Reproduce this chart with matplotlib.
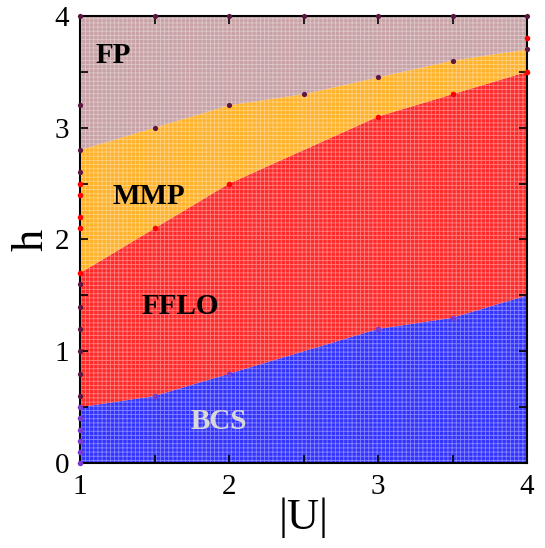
import numpy as np
import matplotlib.pyplot as plt

plt.rcParams['font.family'] = ['Liberation Serif', 'DejaVu Serif']
plt.rcParams['hatch.linewidth'] = 0.6

# phase boundaries h(|U|)
U = [1.0, 1.5, 2.0, 2.5, 3.0, 3.5, 4.0]
h_bcs = [0.5, 0.6, 0.8, 1.0, 1.2, 1.3, 1.5]
h_fflo = [1.7, 2.1, 2.5, 2.8, 3.1, 3.3, 3.5]
h_mmp = [2.8, 3.0, 3.2, 3.3, 3.45, 3.6, 3.7]
h_top = [4.0, 4.0, 4.0, 4.0, 4.0, 4.0, 4.0]

# computed points
pts_fp_u = [1, 1, 1, 1, 1, 1, 1, 1, 1, 1, 1.5, 2, 2.5, 3, 3.5, 4,
            1.5, 2, 2.5, 3, 3.5, 4]
pts_fp_h = [4.0, 3.2, 2.8, 2.6, 1.6, 1.4, 1.2, 1.0, 0.8, 0.6, 3.0, 3.2, 3.3, 3.45, 3.6, 3.7,
            4.0, 4.0, 4.0, 4.0, 4.0, 4.0]
pts_red_u = [1, 1, 1, 1, 1, 1.5, 2, 3, 3.5, 4, 4]
pts_red_h = [2.5, 2.4, 2.2, 2.1, 1.7, 2.1, 2.5, 3.1, 3.3, 3.5, 3.8]
pts_bcs_u = [1, 1, 1, 1, 1, 1, 1.5, 2, 3, 3.5]
pts_bcs_h = [0.5, 0.4, 0.3, 0.2, 0.1, 0.0, 0.6, 0.8, 1.2, 1.3]

fig = plt.figure(figsize=(5.45, 5.48), dpi=100)
ax = fig.add_axes([0.147, 0.155, 0.82, 0.816])

zeros = np.zeros(len(U))
hw = (1, 1, 1, 0.4)
ax.fill_between(U, zeros, h_bcs, facecolor='#3434ff', edgecolor=hw, hatch='++++', linewidth=0)
ax.fill_between(U, h_bcs, h_fflo, facecolor='#ff2a2a', edgecolor=hw, hatch='++++', linewidth=0)
ax.fill_between(U, h_fflo, h_mmp, facecolor='#ffb22a', edgecolor=hw, hatch='++++', linewidth=0)
ax.fill_between(U, h_mmp, h_top, facecolor='#c8a2a6', edgecolor=hw, hatch='++++', linewidth=0)

ax.scatter(pts_fp_u, pts_fp_h, s=14, c='#5c1442', zorder=3, clip_on=False, linewidths=0)
ax.scatter(pts_red_u, pts_red_h, s=16, c='#ff0000', zorder=3, clip_on=False, linewidths=0)
ax.scatter(pts_bcs_u, pts_bcs_h, s=16, c='#7a3ad0', zorder=3, clip_on=False, linewidths=0)

ax.text(1.22, 3.65, 'FP', fontsize=21, fontweight='bold', ha='center', va='center')
ax.text(1.46, 2.38, 'MMP', fontsize=21, fontweight='bold', ha='center', va='center')
ax.text(1.67, 1.40, 'FFLO', fontsize=21, fontweight='bold', ha='center', va='center')
ax.text(1.93, 0.37, 'BCS', fontsize=21, fontweight='bold', ha='center', va='center', color='#d8d8d8')

ax.set_xlim(1, 4)
ax.set_ylim(0, 4)
ax.set_xticks([1, 2, 3, 4])
ax.set_yticks([0, 1, 2, 3, 4])
ax.set_xticks([1.5, 2.5, 3.5], minor=True)
ax.set_yticks([0.5, 1.5, 2.5, 3.5], minor=True)
ax.tick_params(which='both', direction='in', top=True, right=True, length=6, width=1.2,
               labelsize=21, pad=8)
for s in ax.spines.values():
    s.set_linewidth(1.5)
ax.set_xlabel('|U|', fontsize=32, labelpad=-2)
ax.set_ylabel('h', fontsize=32, labelpad=2)

fig.savefig('out.png', dpi=100)
